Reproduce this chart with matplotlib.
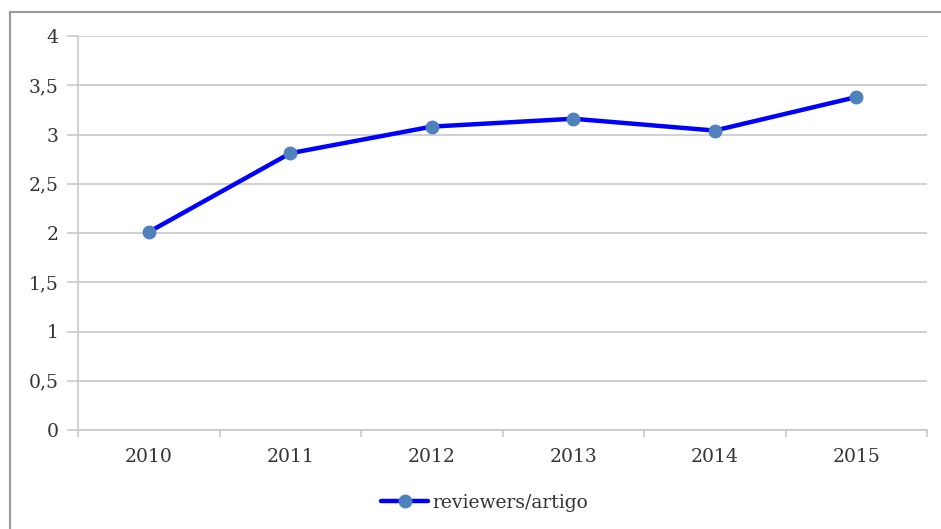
import matplotlib.pyplot as plt
from matplotlib.patches import Rectangle

years = ["2010", "2011", "2012", "2013", "2014", "2015"]
reviewers_per_article = [2.01, 2.81, 3.08, 3.16, 3.04, 3.38]
y_ticks = [0, 0.5, 1, 1.5, 2, 2.5, 3, 3.5, 4]
y_tick_labels = ["0", "0,5", "1", "1,5", "2", "2,5", "3", "3,5", "4"]

W, H = 941, 529
fig = plt.figure(figsize=(W / 100, H / 100), dpi=100)
font = {"family": "DejaVu Serif", "size": 13.5, "color": "#333333"}

# outer frame (right/bottom edges are cut off in the original)
fig.patches.append(Rectangle((10 / W, -0.1), 1.2, 1.1 - 12 / H, transform=fig.transFigure,
                             fill=False, edgecolor="#9a9a9a", linewidth=1.5))

ax = fig.add_axes([78 / W, 1 - 430 / H, (927 - 78) / W, (430 - 36) / H])
x = list(range(len(years)))
ax.plot(x, reviewers_per_article, color="#0000ff", linewidth=3.2,
        marker="o", markersize=9, markerfacecolor="#4f81bd", markeredgecolor="#4f81bd",
        label="reviewers/artigo", solid_capstyle="round")

ax.set_xlim(-0.5, len(years) - 0.5)
ax.set_ylim(0, 4)
ax.set_yticks(y_ticks)
ax.set_yticklabels(y_tick_labels, **font)
ax.set_xticks(x)
ax.set_xticklabels(years, **font)
ax.set_xticks([i - 0.5 for i in range(len(years) + 1)], minor=True)

ax.grid(True, axis="y", color="#c8c8c8", linewidth=1.2)
ax.set_axisbelow(True)
for side in ["top", "right"]:
    ax.spines[side].set_visible(False)
ax.spines["left"].set_color("#c8c8c8")
ax.spines["bottom"].set_color("#c8c8c8")
ax.spines["left"].set_linewidth(1.2)
ax.spines["bottom"].set_linewidth(1.2)
ax.tick_params(axis="y", length=8, color="#c8c8c8", width=1.2, pad=6)
ax.tick_params(axis="x", which="major", length=0, pad=13)
ax.tick_params(axis="x", which="minor", length=5, color="#c8c8c8", width=1.2)

leg = ax.legend(loc="center", bbox_to_anchor=((485 - 78) / (927 - 78), (1 - 503 / H - (1 - 430 / H)) / ((430 - 36) / H)),
                frameon=False, prop={"family": "DejaVu Serif", "size": 13.5},
                handlelength=2.5, handletextpad=0.25)
for t in leg.get_texts():
    t.set_color("#333333")

fig.savefig("out.png", dpi=100)
